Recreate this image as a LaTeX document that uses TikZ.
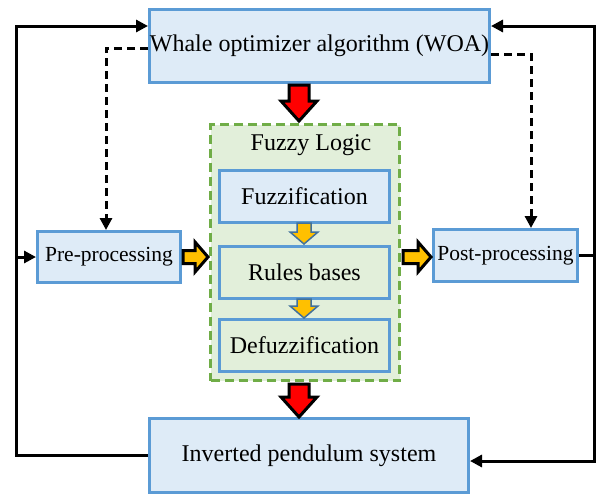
\documentclass[tikz,border=0pt]{standalone}
\usepackage{fontspec}
\setmainfont{Liberation Serif}
\usetikzlibrary{arrows.meta,positioning}
\definecolor{boxblue}{HTML}{DEEBF7}
\definecolor{lineblue}{HTML}{5B9BD5}
\definecolor{boxgreen}{HTML}{E2EFDA}
\definecolor{linegreen}{HTML}{70AD47}
\definecolor{arrowyellow}{HTML}{FFC000}
\definecolor{arrowedge}{HTML}{41719C}
\tikzset{
 blk/.style={draw=lineblue,line width=3pt,fill=boxblue,inner sep=0pt,
  font=\fontsize{24}{28}\selectfont},
 gblk/.style={blk,fill=boxgreen},
 link/.style={line width=3pt,-{Triangle[length=12pt,width=12pt]}},
 dlink/.style={link,dash pattern=on 8pt off 5pt},
 redarrow/.style={draw=black,line width=3pt,fill=red,line join=miter},
 yelarrow/.style={draw=black,line width=3pt,fill=arrowyellow,line join=miter},
 smallarrow/.style={draw=arrowedge,line width=1.5pt,fill=arrowyellow,line join=miter}
}
\begin{document}
\begin{tikzpicture}[x=1pt,y=-1pt]
\useasboundingbox (0,0) rectangle (603,496);
% fuzzy logic container
\node[draw=linegreen,line width=3pt,dash pattern=on 9pt off 5pt,fill=boxgreen,
 minimum width=189pt,minimum height=256pt] (fuzzy) at (305,252.5) {};
\node[font=\fontsize{24}{28}\selectfont] (fuzzylab) at (311,145) {Fuzzy Logic};
% blocks
\node[blk,minimum width=340pt,minimum height=73pt] (woa) at (319.5,46) {Whale optimizer algorithm (WOA)};
\node[blk,minimum width=170pt,minimum height=52pt] (fuzz) at (304.5,196.5) {Fuzzification};
\node[gblk,minimum width=170pt,minimum height=52pt] (rules) at (304.5,272.5) {Rules bases};
\node[gblk,minimum width=170pt,minimum height=52pt] (defuzz) at (304.5,345.5) {Defuzzification};
\node[blk,minimum width=143pt,minimum height=51pt,font=\fontsize{21.5}{26}\selectfont] (pre) at (109,257) {Pre-processing};
\node[blk,minimum width=144pt,minimum height=52pt,font=\fontsize{21.5}{26}\selectfont] (post) at (505.5,255.5) {Post-processing};
\node[blk,minimum width=319pt,minimum height=74pt] (pend) at (309,455.5) {Inverted pendulum system};
% block arrows (down)
\foreach \x/\ya/\yb/\s/\h/\l/\sty in {299/85/121/10/18/20/redarrow,299/384/417/10/18/20/redarrow,
 304/223/244/7/14/12/smallarrow,304/299/318/7/14/12/smallarrow}
 \draw[\sty] (\x-\s,\ya) -- (\x+\s,\ya) -- (\x+\s,\yb-\l) -- (\x+\h,\yb-\l) -- (\x,\yb)
  -- (\x-\h,\yb-\l) -- (\x-\s,\yb-\l) -- cycle;
% block arrows (right)
\foreach \y/\xa/\xb in {257/183/208,257/403/431}
 \draw[yelarrow] (\xa,\y-6.5) -- (\xb-13,\y-6.5) -- (\xb-13,\y-15) -- (\xb,\y) -- (\xb-13,\y+15)
  -- (\xb-13,\y+6.5) -- (\xa,\y+6.5) -- cycle;
% feedback loops
\coordinate (lt) at (16,26);
\coordinate (lm) at (16,257);
\coordinate (lb) at (16,455.5);
\coordinate (rt) at (594,26);
\coordinate (rm) at (594,255.5);
\coordinate (rb) at (594,461);
\draw[link] (pend.west) -- (lb) -- (lt) -- (lt -| woa.west);
\draw[link] (lm) -- (pre.west);
\draw[link] (rm) -- (rt) -- (rt -| woa.east);
\draw[link] (post.east) -- (rm) -- (rb) -- (rb -| pend.east);
% dashed links
\coordinate (dl) at (106,48);
\coordinate (dr) at (531,54);
\draw[dlink] (dl -| woa.west) -- (dl) -- (dl |- pre.north);
\draw[dlink] (dr -| woa.east) -- (dr) -- (dr |- post.north);
\end{tikzpicture}
\end{document}
